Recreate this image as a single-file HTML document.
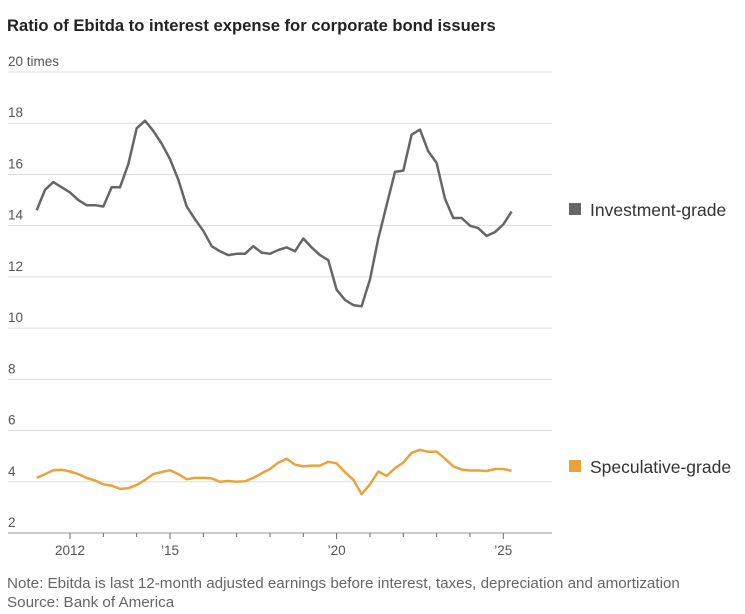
<!DOCTYPE html>
<html><head><meta charset="utf-8">
<style>
body{margin:0;background:#fff;font-family:"Liberation Sans",sans-serif;}
svg text{font-family:"Liberation Sans",sans-serif;}
</style></head>
<body>
<svg id="chart" width="745" height="609">
<text x="7" y="31" font-size="16.6" font-weight="bold" fill="#222">Ratio of Ebitda to interest expense for corporate bond issuers</text>
<g id="grid"></g>
<g id="xaxis"></g>
<g id="lines"></g>
<g>
<rect x="569" y="203" width="12" height="12" fill="#666"/>
<text x="590" y="216" font-size="17.5" fill="#333">Investment-grade</text>
</g>
<g>
<rect x="569" y="460" width="12" height="12" fill="#e8a33c"/>
<text x="590" y="473" font-size="17.5" fill="#333">Speculative-grade</text>
</g>
<text x="7" y="588" font-size="15.2" fill="#666">Note: Ebitda is last 12-month adjusted earnings before interest, taxes, depreciation and amortization</text>
<text x="7" y="607" font-size="15.2" fill="#666">Source: Bank of America</text>
</svg>
<script>
const yTicks=[2,4,6,8,10,12,14,16,18,20];
const xYears=[2012,2013,2014,2015,2016,2017,2018,2019,2020,2021,2022,2023,2024,2025];
const xLabels={2012:"2012",2015:"’15",2020:"’20",2025:"’25"};
const startYear=2011.0;
const investment=[14.6,15.4,15.7,15.5,15.3,15.0,14.8,14.8,14.75,15.5,15.5,16.4,17.8,18.1,17.7,17.2,16.6,15.8,14.75,14.25,13.8,13.2,13.0,12.85,12.9,12.9,13.2,12.95,12.9,13.05,13.15,13.0,13.5,13.15,12.85,12.65,11.5,11.1,10.9,10.85,11.9,13.5,14.8,16.1,16.15,17.55,17.75,16.9,16.45,15.05,14.3,14.3,14.0,13.9,13.6,13.75,14.05,14.55];
const speculative=[4.15,4.3,4.45,4.47,4.4,4.3,4.15,4.05,3.9,3.85,3.72,3.75,3.88,4.07,4.3,4.38,4.45,4.3,4.1,4.15,4.15,4.13,4.0,4.03,4.0,4.02,4.15,4.33,4.5,4.75,4.9,4.67,4.6,4.63,4.63,4.78,4.72,4.37,4.08,3.52,3.9,4.4,4.23,4.53,4.75,5.13,5.25,5.17,5.18,4.9,4.6,4.48,4.44,4.44,4.42,4.5,4.5,4.43];
const NS="http://www.w3.org/2000/svg";
const X0=8,X1=552;
function y(v){return 533-(v-2)*(533-72)/18;}
function x(t){return 70+(t-2012)*33.33;}
function mk(tag,attrs,parent){const e=document.createElementNS(NS,tag);for(const k in attrs)e.setAttribute(k,attrs[k]);parent.appendChild(e);return e;}
const grid=document.getElementById('grid');
yTicks.forEach(v=>{
  const l=mk('line',{x1:X0,x2:X1,y1:y(v),y2:y(v),stroke:v===2?'#999':'#ddd','stroke-width':1},grid);
  
  
  const t=mk('text',{x:X0,y:y(v)-6,'font-size':13.5,fill:'#555'},grid);
  t.textContent=v===20?'20 times':String(v);
  
  
});
const xa=document.getElementById('xaxis');
xYears.forEach(yr=>{
  const big=xLabels[yr]!==undefined;
  const l=mk('line',{x1:x(yr),x2:x(yr),y1:533,y2:big?539:537,stroke:'#666','stroke-width':1},xa);
  
  
  if(big){
    const t=mk('text',{x:x(yr),y:555,'font-size':13.5,fill:'#555','text-anchor':'middle'},xa);
    t.textContent=xLabels[yr];
    
    
  }
});
const ln=document.getElementById('lines');
function draw(data,color,name){
  const d=data.map((v,i)=>(i?'L':'M')+x(startYear+i*0.25).toFixed(1)+','+y(v).toFixed(1)).join(' ');
  const p=mk('path',{d:d,fill:'none',stroke:color,'stroke-width':2.5,'stroke-linejoin':'round'},ln);
  
  
}
draw(investment,'#666','investment-grade-line');
draw(speculative,'#e8a33c','speculative-grade-line');
</script>
</body></html>
